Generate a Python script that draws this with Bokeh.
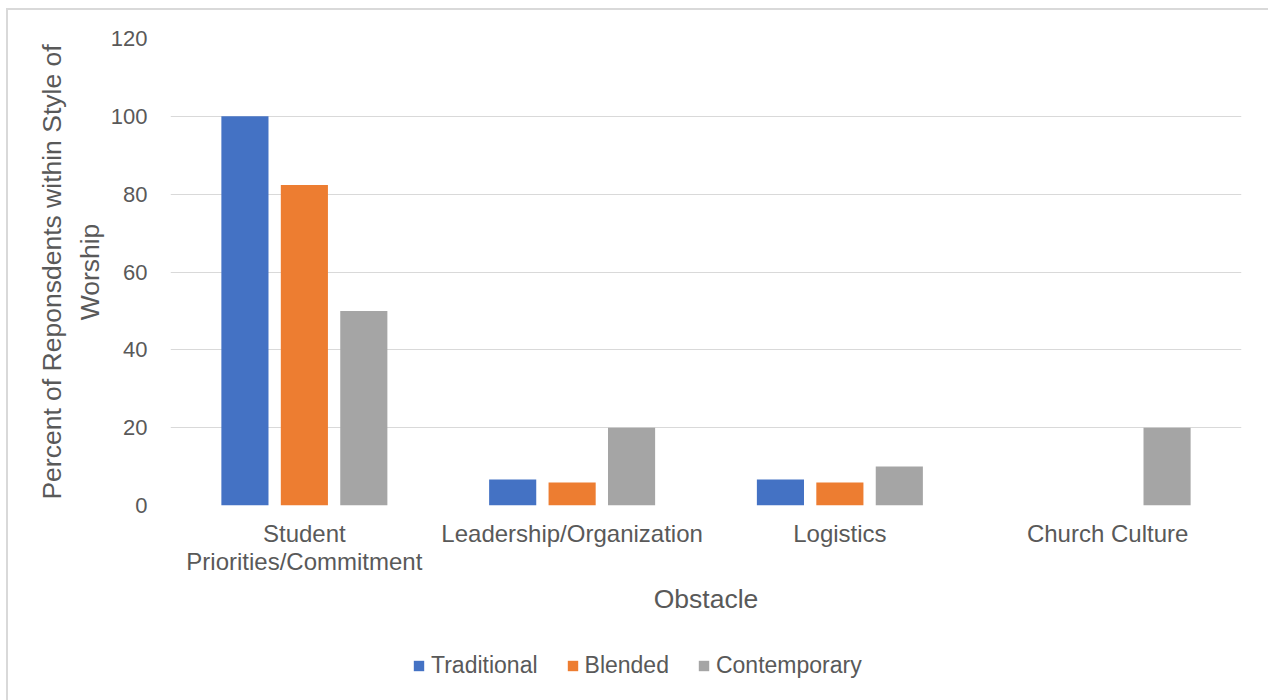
from bokeh.plotting import figure
from bokeh.models import ColumnDataSource, FactorRange, Legend, LegendItem, Range1d
from bokeh.layouts import column
from bokeh.transform import dodge
from bokeh.embed import file_html
from bokeh.resources import INLINE

categories = ["Student\nPriorities/Commitment", "Leadership/Organization", "Logistics", "Church Culture"]
traditional = [100, 6.67, 6.67, 0]
blended = [82.35, 5.88, 5.88, 0]
contemporary = [50, 20, 10, 20]
series_names = ["Traditional", "Blended", "Contemporary"]
y_ticks = [0, 20, 40, 60, 80, 100, 120]

colors = ["#4472C4", "#ED7D31", "#A5A5A5"]
FONT = "Liberation Sans"
TXT = "#595959"

src = ColumnDataSource(dict(cat=categories, Traditional=traditional,
                            Blended=blended, Contemporary=contemporary))

p = figure(width=1260, height=620, x_range=FactorRange(factors=categories),
           y_range=(0, 120), output_backend="svg", toolbar_location=None,
           min_border_left=162, min_border_right=27, min_border_top=28,
           min_border_bottom=125)
p.outline_line_color = None
p.background_fill_color = "white"
p.border_fill_color = "white"

offsets = [-0.222, 0.0, 0.222]
renderers = []
for name, off, c in zip(series_names, offsets, colors):
    r = p.vbar(x=dodge("cat", off, range=p.x_range), top=name, bottom=0,
               width=0.176, source=src, fill_color=c, line_color=None)
    renderers.append(r)

p.xgrid.grid_line_color = None
p.ygrid.grid_line_color = "#d9d9d9"
p.ygrid.grid_line_width = 1.2
p.yaxis.ticker = y_ticks

for ax in (p.xaxis[0], p.yaxis[0]):
    ax.axis_line_color = None
    ax.major_tick_line_color = None
    ax.minor_tick_line_color = None
    ax.major_label_text_font = FONT
    ax.major_label_text_color = TXT
    ax.axis_label_text_font = FONT
    ax.axis_label_text_color = TXT
    ax.axis_label_text_font_size = "26.5px"
    ax.axis_label_text_font_style = "normal"

p.yaxis.major_label_text_font_size = "22px"
p.yaxis.major_label_standoff = 17
p.yaxis.axis_label = "Percent of Reponsdents within Style of\nWorship"
p.yaxis.axis_label_standoff = 3
p.yaxis.axis_label_text_line_height = 1.25

p.xaxis.major_label_text_font_size = "24px"
p.xaxis.major_label_text_line_height = 1.04
p.xaxis.major_label_standoff = 8
p.xaxis.axis_label = "Obstacle"
p.xaxis.axis_label_standoff = 6
p.xaxis.major_label_orientation = "horizontal"

# legend strip below the chart (its renderers are hidden; only the legend shows)
lg = figure(width=1260, height=70, output_backend="svg", toolbar_location=None,
            x_range=FactorRange(factors=categories), y_range=Range1d(-2, -1),
            x_axis_type=None, y_axis_type=None,
            min_border_left=0, min_border_right=0, min_border_top=0, min_border_bottom=0)
lg.outline_line_color = None
lg.border_fill_color = "white"
lg_renderers = []
for name, off, c in zip(series_names, offsets, colors):
    r = lg.vbar(x=dodge("cat", off, range=lg.x_range), top=name, bottom=0,
                width=0.176, source=src, fill_color=c, line_color=None)
    r.visible = False
    lg_renderers.append(r)
legend = Legend(items=[LegendItem(label=n, renderers=[r]) for n, r in zip(series_names, lg_renderers)],
                orientation="horizontal", location=(242, 21),
                glyph_width=13, glyph_height=13, label_standoff=6, spacing=28,
                padding=0, margin=0, border_line_color=None,
                background_fill_alpha=0, inactive_fill_alpha=0,
                label_text_font=FONT, label_text_font_size="23px",
                label_text_color=TXT)
lg.add_layout(legend, "center")

page = column(p, lg, spacing=0,
              styles={"margin-left": "6px", "margin-top": "8px",
                      "border-left": "2px solid #d9d9d9",
                      "border-top": "2px solid #d9d9d9"})

open("out.html", "w").write(file_html(page, INLINE))
